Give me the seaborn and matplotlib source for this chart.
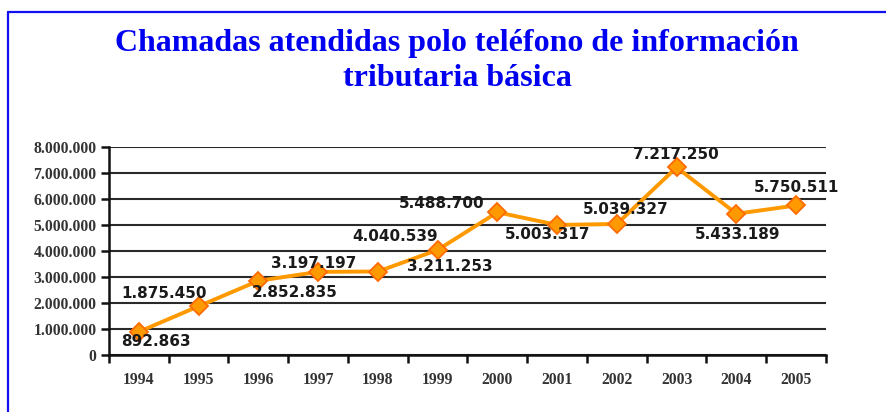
import matplotlib
matplotlib.use("Agg")
import matplotlib.pyplot as plt
from matplotlib.lines import Line2D
from matplotlib.ticker import FuncFormatter, FixedLocator
import seaborn as sns
import pandas as pd

years = ["1994", "1995", "1996", "1997", "1998", "1999",
         "2000", "2001", "2002", "2003", "2004", "2005"]
calls = [892863, 1875450, 2852835, 3197197, 3211253, 4040539,
         5488700, 5003317, 5039327, 7217250, 5433189, 5750511]
title = "Chamadas atendidas polo teléfono de información\ntributaria básica"

# label offsets in pixels (dx, dy) relative to each point
label_offsets = [(17, -10), (-35, 13), (36, -12), (-4, 8), (72, 5), (-42, 13),
                 (-56, 9), (-10, -10), (9, 14), (-1, 13), (1, -21), (0, 18)]

def dotted(v):
    return f"{int(v):,}".replace(",", ".")

sns.set_theme(style="white")
plt.rcParams['font.family'] = ['Liberation Serif', 'DejaVu Serif']

df = pd.DataFrame({"year": years, "calls": calls})

fig = plt.figure(figsize=(8.87, 4.12), dpi=100)
ax = fig.add_axes([109 / 887, 1 - 355 / 412, (826 - 109) / 887, (355 - 147) / 412])

# blue frame
blue = "#1010F0"
fig.add_artist(Line2D([8 / 887, 1.0], [1 - 12 / 412, 1 - 12 / 412], color=blue, lw=1.6,
                      transform=fig.transFigure))
fig.add_artist(Line2D([8 / 887, 8 / 887], [0.0, 1 - 12 / 412], color=blue, lw=1.6,
                      transform=fig.transFigure))

fig.text(457 / 887, 1 - 61 / 412, title, ha="center", va="center", color="#0000F0",
         fontsize=23, fontweight="bold", family=["Liberation Serif"], linespacing=1.27)

sns.lineplot(data=df, x="year", y="calls", sort=False, ax=ax, color="#FF9900", lw=2.8,
             marker="D", markersize=9, markerfacecolor="#FF9900",
             markeredgecolor="#FF6A00", markeredgewidth=1.3, zorder=5)

ax.set_xlim(-0.5, len(years) - 0.5)
ax.set_ylim(0, 8000000)
ax.yaxis.set_major_locator(FixedLocator(list(range(0, 8000001, 1000000))))
ax.yaxis.set_major_formatter(FuncFormatter(lambda v, p: dotted(v)))
ax.grid(axis="y", color="#2a2a2a", lw=1.5)
ax.grid(axis="x", visible=False)
ax.set_axisbelow(True)

for s in ["top", "right"]:
    ax.spines[s].set_visible(False)
for s in ["left", "bottom"]:
    ax.spines[s].set_color("#111111")
    ax.spines[s].set_linewidth(1.8)

ax.set_xticks(range(len(years)))
ax.set_xticklabels(years)
ax.set_xticks([i - 0.5 for i in range(len(years) + 1)], minor=True)
ax.tick_params(axis="x", which="major", length=0, pad=12, labelsize=11.3,
               labelcolor="#333333")
ax.tick_params(axis="x", which="minor", length=6, width=1.8, color="#111111",
               direction="out", bottom=True)
ax.tick_params(axis="y", which="major", length=6, width=1.8, color="#111111",
               direction="out", left=True, labelsize=11.3, labelcolor="#333333", pad=3)
for lab in ax.get_xticklabels() + ax.get_yticklabels():
    lab.set_fontweight("bold")
ax.set_xlabel("")
ax.set_ylabel("")

for i, (v, off) in enumerate(zip(calls, label_offsets)):
    ax.annotate(dotted(v), xy=(i, v), xytext=off, textcoords="offset pixels",
                ha="center", va="center", fontsize=11, fontweight="bold",
                family=["DejaVu Sans"], color="#1a1a1a", zorder=6)

fig.savefig("out.png", dpi=100, facecolor="white")
